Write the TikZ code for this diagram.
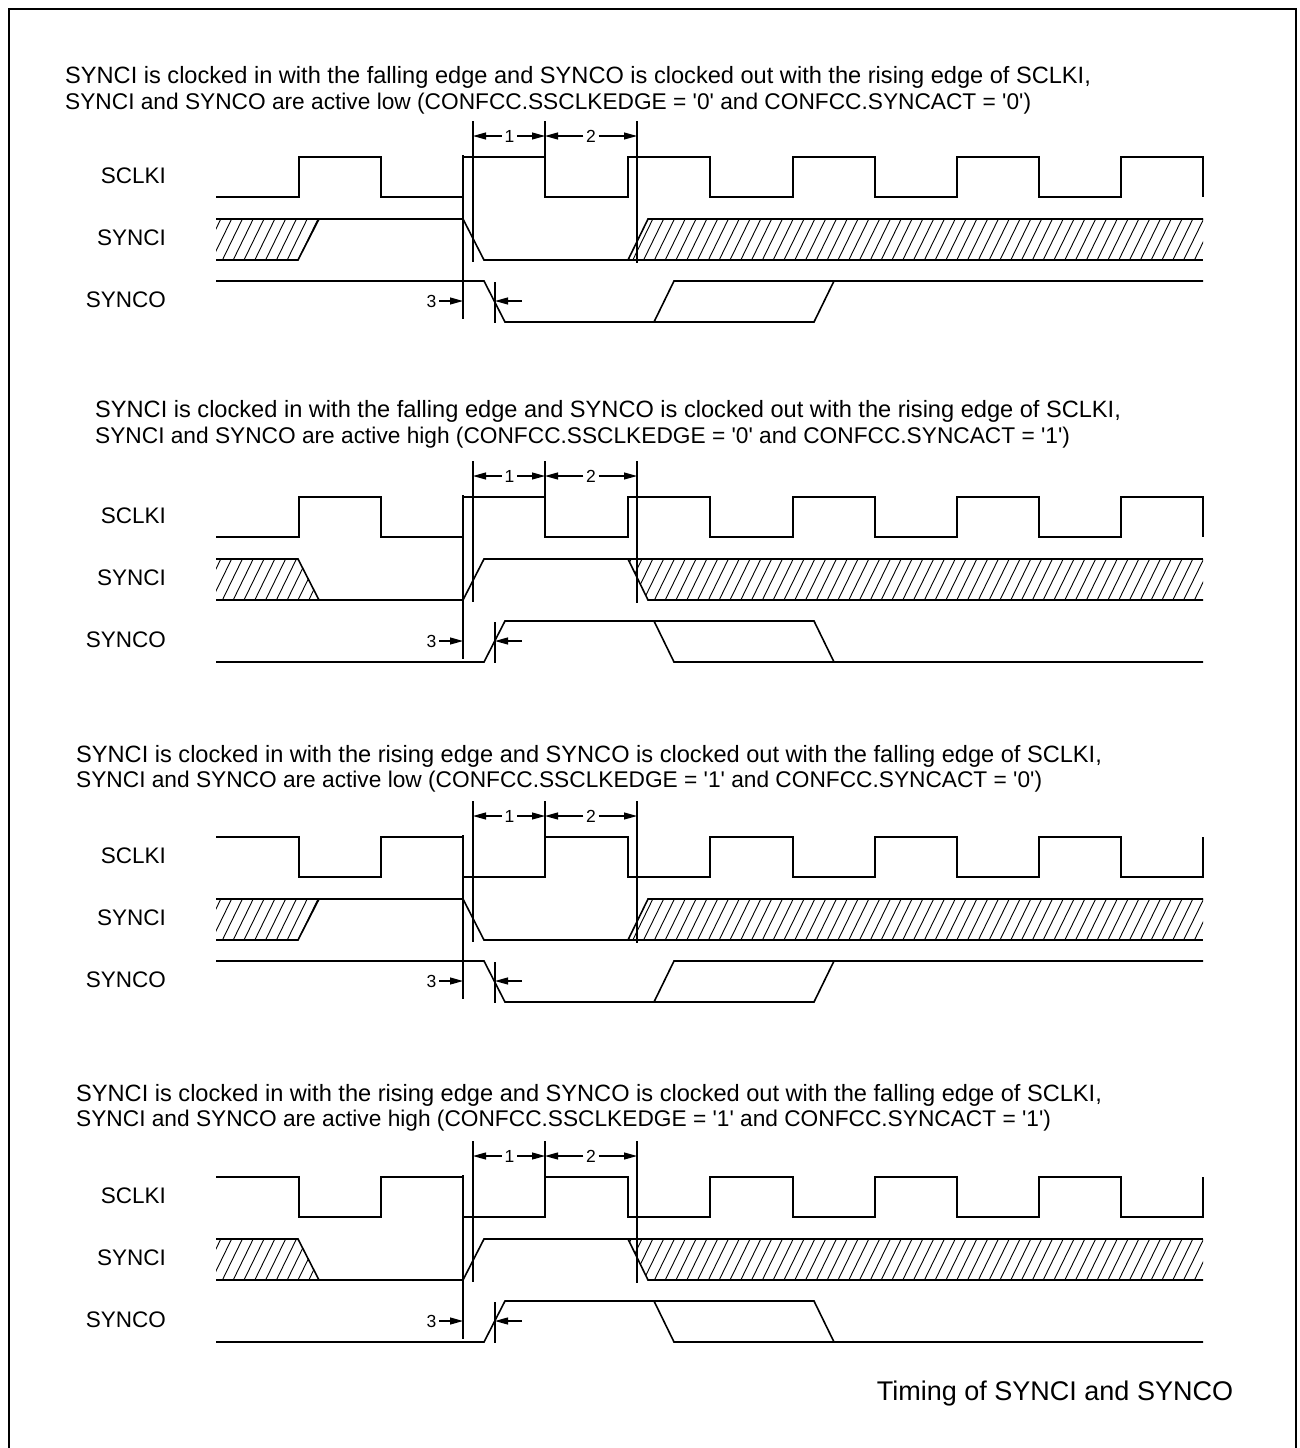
\documentclass[tikz,border=0pt]{standalone}
\usepackage{fontspec}
\setmainfont{Liberation Sans}
\usetikzlibrary{arrows.meta}
\newcommand{\sq}{\textquotesingle}
\newcommand{\hatchfill}[1]{%
  \begin{scope}
    \clip #1;
    \foreach \i in {0,...,98} {\draw[hat] ({190+10.8*\i},260) -- ({210+10.8*\i},219);}
  \end{scope}}
\newcommand{\clkA}{\draw[sig] (216,197) -| (299,157) -| (381,197) -| (463,157) -| (545,197) -| (628,157) -| (710,197) -| (793,157) -| (875,197) -| (957,157) -| (1039,197) -| (1121,157) -| (1203,197);}
\newcommand{\clkB}{\draw[sig] (216,157) -| (299,197) -| (381,157) -| (463,197) -| (545,157) -| (628,197) -| (710,157) -| (793,197) -| (875,157) -| (957,197) -| (1039,157) -| (1121,197) -| (1203,157);}
\newcommand{\sigA}{%
  \hatchfill{(216,219) -- (319,219) -- (298,260) -- (216,260) -- cycle}
  \hatchfill{(628,260) -- (648,219) -- (1203,219) -- (1203,260) -- cycle}
  \draw[sig] (216,260) -- (298,260) -- (319,219);
  \draw[sig] (216,219) -- (463,219) -- (484,260) -- (628,260) -- (648,219) -- (1203,219);
  \draw[sig] (628,260) -- (1203,260);
  \draw[sig] (216,281) -- (484,281) -- (505,322) -- (814,322) -- (834,281) -- (1203,281);
  \draw[sig] (654,322) -- (674,281) -- (834,281);}
\newcommand{\sigB}{%
  \hatchfill{(216,219) -- (298,219) -- (319,260) -- (216,260) -- cycle}
  \hatchfill{(628,219) -- (1203,219) -- (1203,260) -- (648,260) -- cycle}
  \draw[sig] (216,219) -- (298,219) -- (319,260);
  \draw[sig] (216,260) -- (463,260) -- (484,219) -- (628,219) -- (648,260) -- (1203,260);
  \draw[sig] (628,219) -- (1203,219);
  \draw[sig] (216,322) -- (484,322) -- (505,281) -- (814,281) -- (834,322) -- (1203,322);
  \draw[sig] (654,281) -- (674,322) -- (834,322);}
\newcommand{\markers}[1]{%
  \draw[mk] (463,155) -- (463,319);
  \draw[mk] (473,121) -- (473,262);
  \draw[mk] (545,121) -- (545,157);
  \draw[mk] (637,121) -- (637,263);
  \draw[mk] (495,282) -- (495,323);
  \coordinate (a#1) at (473,136);
  \coordinate (b#1) at (545,136);
  \coordinate (c#1) at (637,136);
  \coordinate (d#1) at (463,301);
  \coordinate (e#1) at (495,301);
  \coordinate (f#1) at (522,301);
  \node[num] (one#1) at (509.5,136) {1};
  \node[num] (two#1) at (591,136) {2};
  \node[num] (three#1) at (431.5,301) {3};
  \draw[dim] (one#1) -- (a#1);
  \draw[dim] (one#1) -- (b#1);
  \draw[dim] (two#1) -- (b#1);
  \draw[dim] (two#1) -- (c#1);
  \draw[dim] (three#1) -- (d#1);
  \draw[dim] (f#1) -- (e#1);
  \node[lab] (sclki#1) at (166,176) {SCLKI};
  \node[lab] (synci#1) at (166,238) {SYNCI};
  \node[lab] (synco#1) at (166,300) {SYNCO};}
\begin{document}
\begin{tikzpicture}[x=1pt,y=-1pt,
  sig/.style={line width=1.6pt, line join=miter},
  mk/.style={line width=1.1pt},
  hat/.style={line width=0.9pt},
  dim/.style={line width=1.1pt, -{Triangle[length=13pt,width=7pt]}},
  title/.style={anchor=base west, inner sep=0pt, font=\fontsize{22.7}{26}\selectfont},
  titleA/.style={anchor=base west, inner sep=0pt, font=\fontsize{23.6}{26}\selectfont},
  lab/.style={anchor=east, inner sep=0pt, font=\fontsize{22.5}{26}\selectfont},
  num/.style={inner sep=2.5pt, font=\fontsize{17.5}{20}\selectfont}]
\useasboundingbox (0,0) rectangle (1299,1448);
\draw[line width=2.2pt] (9,1470) -- (9,9) -- (1296,9) -- (1296,1470);
% panel 1
\node[titleA] (t1a) at (65,83) {SYNCI is clocked in with the falling edge and SYNCO is clocked out with the rising edge of SCLKI,};
\node[title] (t1b) at (65,109) {SYNCI and SYNCO are active low (CONFCC.SSCLKEDGE = \sq0\sq{} and CONFCC.SYNCACT = \sq0\sq)};
\begin{scope}
  \clkA \sigA \markers{p1}
\end{scope}
% panel 2
\node[titleA] (t2a) at (95,417) {SYNCI is clocked in with the falling edge and SYNCO is clocked out with the rising edge of SCLKI,};
\node[title] (t2b) at (95,443) {SYNCI and SYNCO are active high (CONFCC.SSCLKEDGE = \sq0\sq{} and CONFCC.SYNCACT = \sq1\sq)};
\begin{scope}[shift={(0,340)}]
  \clkA \sigB \markers{p2}
\end{scope}
% panel 3
\node[titleA] (t3a) at (76,762) {SYNCI is clocked in with the rising edge and SYNCO is clocked out with the falling edge of SCLKI,};
\node[title] (t3b) at (76,787) {SYNCI and SYNCO are active low (CONFCC.SSCLKEDGE = \sq1\sq{} and CONFCC.SYNCACT = \sq0\sq)};
\begin{scope}[shift={(0,680)}]
  \clkB \sigA \markers{p3}
\end{scope}
% panel 4
\node[titleA] (t4a) at (76,1101) {SYNCI is clocked in with the rising edge and SYNCO is clocked out with the falling edge of SCLKI,};
\node[title] (t4b) at (76,1126) {SYNCI and SYNCO are active high (CONFCC.SSCLKEDGE = \sq1\sq{} and CONFCC.SYNCACT = \sq1\sq)};
\begin{scope}[shift={(0,1020)}]
  \clkB \sigB \markers{p4}
\end{scope}
\node[font=\fontsize{27}{30}\selectfont, inner sep=0pt] (cap) at (1055,1394) {Timing of SYNCI and SYNCO};
\end{tikzpicture}
\end{document}
